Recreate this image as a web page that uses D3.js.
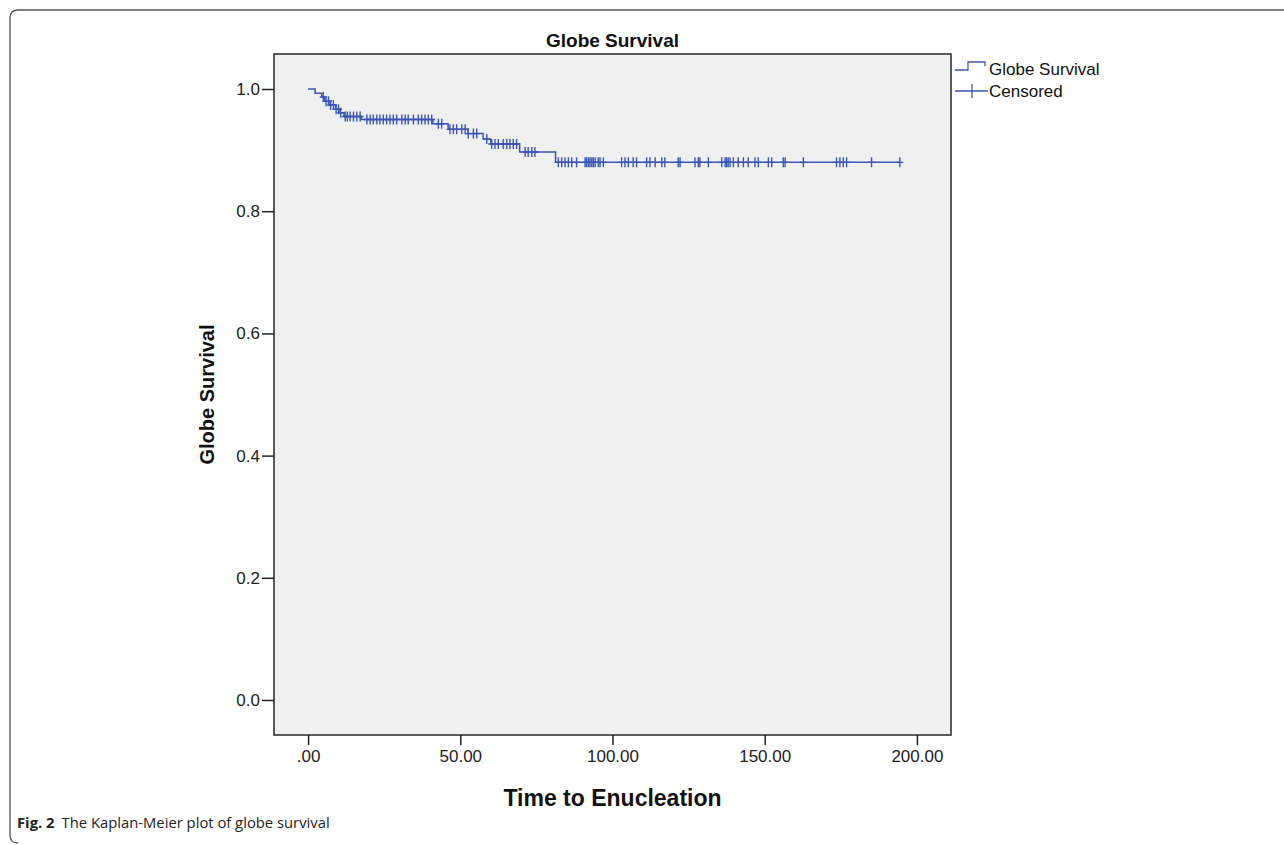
<!DOCTYPE html>
<html>
<head>
<meta charset="utf-8">
<script src="https://cdn.jsdelivr.net/npm/d3@7"></script>
<style>
  body { margin: 0; background: #fff; }
</style>
</head>
<body>
<div id="chart"></div>
<script>
// Kaplan-Meier steps (time, survival)
var stepTimes = [0, 2.3, 4.5, 5.5, 7.2, 9.0, 10.5, 11.8, 17.5, 41.0, 46.0, 52.5, 57.5, 60.0, 69.5, 81.3];
var stepSurv  = [1.0, 0.993, 0.987, 0.980, 0.974, 0.967, 0.961, 0.955, 0.950, 0.943, 0.934, 0.927, 0.918, 0.910, 0.897, 0.880];
var lastTime = 194.4;

// censored cases (time)
var censoredTimes = [
  5.0, 5.9, 6.7, 7.4, 8.3, 9.2, 10.0, 10.7, 12.2, 12.9, 13.8, 14.9, 16.0, 17.1,
  19.3, 20.4, 21.4, 22.6, 23.6, 24.7, 25.8, 26.9, 28.0, 29.1, 30.8, 31.9, 32.9,
  34.6, 36.2, 37.3, 38.4, 39.5, 40.6, 42.8, 43.9, 46.6, 47.7, 48.8, 50.5, 51.6,
  52.6, 54.3, 55.4, 58.7, 60.3, 61.4, 62.5, 64.1, 65.3, 66.3, 67.4, 68.5, 71.3,
  72.3, 73.5, 74.5,
  82.2, 83.3, 84.4, 85.5, 86.6, 88.2, 91.0, 91.5, 92.1, 92.6, 93.2, 93.7, 94.3,
  95.3, 95.9, 97.0, 103.0, 104.1, 105.2, 106.8, 107.9, 111.2, 112.3, 114.0,
  116.2, 117.2, 121.6, 122.2, 127.1, 128.2, 128.7, 131.5, 135.9, 137.0, 137.5,
  138.0, 138.6, 139.7, 141.3, 143.0, 144.6, 146.8, 147.9, 151.2, 152.3, 156.1,
  156.7, 162.7, 173.6, 174.7, 175.8, 176.9, 185.1, 194.4
];

var xTicks = [0, 50, 100, 150, 200];
var yTicks = [0, 0.2, 0.4, 0.6, 0.8, 1.0];
var legendLabels = ['Globe Survival', 'Censored'];

var W = 1284, H = 845;
var blue = '#3a56b4';
var armFont = '"Liberation Sans", Arial, sans-serif';

var svg = d3.select('#chart')
  .append('svg')
  .attr('width', W)
  .attr('height', H);

// figure frame (open on the right)
svg.append('path')
  .attr('d', 'M1290,10 H18 Q10,10 10,18 V835 Q10,843 18,843')
  .attr('fill', 'none')
  .attr('stroke', '#555')
  .attr('stroke-width', 1.3);

var plot = { left: 274, right: 951, top: 54, bottom: 735 };

var x = d3.scaleLinear().domain([-11.2, 211.2]).range([plot.left, plot.right]);
var y = d3.scaleLinear().domain([-0.0573, 1.0573]).range([plot.bottom, plot.top]);

svg.append('rect')
  .attr('x', plot.left)
  .attr('y', plot.top)
  .attr('width', plot.right - plot.left)
  .attr('height', plot.bottom - plot.top)
  .attr('fill', '#f0f0f0')
  .attr('stroke', '#333')
  .attr('stroke-width', 1.6);

// axes
var yAxis = svg.append('g')
  .attr('transform', 'translate(' + plot.left + ',0)')
  .call(d3.axisLeft(y).tickValues(yTicks).tickSize(12).tickPadding(2).tickFormat(d3.format('.1f')));
var xAxis = svg.append('g')
  .attr('transform', 'translate(0,' + plot.bottom + ')')
  .call(d3.axisBottom(x).tickValues(xTicks).tickSize(10).tickPadding(5)
    .tickFormat(function(d){ return d === 0 ? '.00' : d3.format('.2f')(d); }));

[xAxis, yAxis].forEach(function(a){
  a.select('.domain').remove();
  a.selectAll('line').attr('stroke', '#222').attr('stroke-width', 1.5);
  a.selectAll('text').attr('fill', '#222').style('font-family', armFont).style('font-size', '17px');
});

// survival step line
var pts = stepTimes.map(function(t, i){ return [t, stepSurv[i]]; });
pts.push([lastTime, stepSurv[stepSurv.length - 1]]);

var line = d3.line()
  .x(function(d){ return x(d[0]); })
  .y(function(d){ return y(d[1]); })
  .curve(d3.curveStepAfter);

svg.append('path')
  .datum(pts)
  .attr('d', line)
  .attr('fill', 'none')
  .attr('stroke', blue)
  .attr('stroke-width', 1.5);

// censored marks sit on the curve
var bis = d3.bisector(function(d){ return d; }).right;
function survAt(t){ return stepSurv[Math.max(0, bis(stepTimes, t) - 1)]; }

var marks = svg.append('g')
  .attr('stroke', blue)
  .attr('stroke-width', 1.4);
marks.selectAll('path')
  .data(censoredTimes)
  .enter()
  .append('path')
  .attr('d', function(t){
    var cx = x(t), cy = y(survAt(t));
    return 'M' + (cx - 3.5) + ',' + cy + 'H' + (cx + 3.5) + 'M' + cx + ',' + (cy - 5) + 'V' + (cy + 5);
  });

// titles
svg.append('text')
  .attr('x', (plot.left + plot.right) / 2)
  .attr('y', 47)
  .attr('text-anchor', 'middle')
  .style('font-family', armFont)
  .style('font-weight', 'bold')
  .style('font-size', '19px')
  .attr('fill', '#111')
  .text('Globe Survival');

svg.append('text')
  .attr('transform', 'translate(214,' + ((plot.top + plot.bottom) / 2) + ') rotate(-90)')
  .attr('text-anchor', 'middle')
  .style('font-family', armFont)
  .style('font-weight', 'bold')
  .style('font-size', '20px')
  .attr('fill', '#111')
  .text('Globe Survival');

svg.append('text')
  .attr('x', (plot.left + plot.right) / 2)
  .attr('y', 806)
  .attr('text-anchor', 'middle')
  .style('font-family', armFont)
  .style('font-weight', 'bold')
  .style('font-size', '23px')
  .attr('fill', '#111')
  .text('Time to Enucleation');

// legend
var lg = svg.append('g');
lg.append('path')
  .attr('d', 'M955,70 H968 V62 H985 V66')
  .attr('fill', 'none')
  .attr('stroke', blue)
  .attr('stroke-width', 1.3);
lg.append('path')
  .attr('d', 'M955,91 H988 M972,84 V98')
  .attr('fill', 'none')
  .attr('stroke', blue)
  .attr('stroke-width', 1.3);
lg.selectAll('text')
  .data(legendLabels)
  .enter()
  .append('text')
  .attr('x', 989)
  .attr('y', function(d, i){ return 75 + i * 22; })
  .style('font-family', armFont)
  .style('font-size', '17px')
  .attr('fill', '#111')
  .text(function(d){ return d; });

// caption
var cap = svg.append('text')
  .attr('x', 17)
  .attr('y', 828)
  .style('font-family', '"Open Sans", "Noto Sans", sans-serif')
  .style('font-size', '14.8px')
  .attr('fill', '#222');
cap.append('tspan').style('font-weight', 'bold').text('Fig. 2');
cap.append('tspan').attr('dx', 7).text('The Kaplan-Meier plot of globe survival');
</script>
</body>
</html>
